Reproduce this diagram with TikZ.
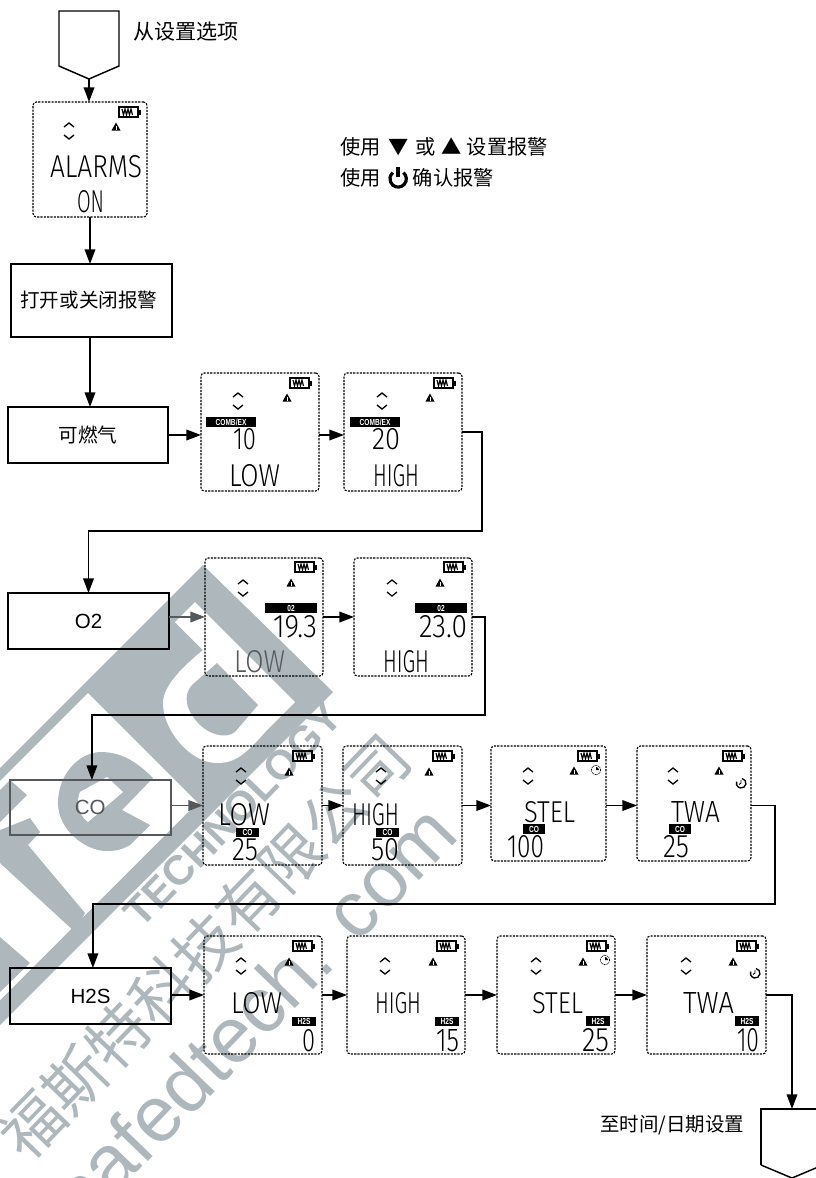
\documentclass[tikz,border=0pt]{standalone}
\usepackage{graphicx}
\usepackage{fontspec}
\setmainfont{Liberation Sans}
\newfontfamily\cjk{Noto Sans CJK SC}
\newfontfamily\lcdfont{Fira Sans Light}
\usetikzlibrary{arrows.meta,calc,positioning}
\definecolor{wmgray}{HTML}{AEB8BC}
\definecolor{dimline}{HTML}{55595C}
\newdimen\pxlen
\pxlen=0.75pt
\tikzset{
  flowline/.style={-{Triangle[length=11pt,width=8pt]},line width=1.1pt},
  dimflow/.style={flowline,dimline},
  stepbox/.style={draw,line width=1.1pt,inner sep=0pt,outer sep=0pt,align=center,font=\cjk\fontsize{14.7}{16}\selectfont},
  lcdframe/.style={draw,line width=0.85pt,dash pattern=on 1.6pt off 0.9pt,rounded corners=2.5pt,inner sep=0pt,outer sep=0pt},
  lcdtext/.style={anchor=north west,inner sep=0pt,outer sep=0pt,font=\lcdfont},
  lcdtagbox/.style={fill=black,text=white,inner sep=0pt,outer sep=0pt,font=\fontsize{6.6}{7}\selectfont\bfseries},
  cjklabel/.style={anchor=west,inner sep=0pt,font=\cjk\fontsize{15.2}{17}\selectfont},
  wmark/.style={text=wmgray,inner sep=0pt,rotate=46}
}
\newcommand{\lcdbox}[5]{\node[lcdframe,minimum width={(#4-#2)*0.75pt},minimum height={(#5-#3)*0.75pt}] (#1) at ({(#2+#4)/2},{(#3+#5)/2}) {};}
\newcommand{\lcdword}[6]{\node[lcdtext] (#1) at (#2,#3) {\resizebox{\numexpr#4-#2\relax\pxlen}{\numexpr#5-#3\relax\pxlen}{#6}};}
\newcommand{\lcdtag}[6]{\node[lcdtagbox,minimum width={(#4-#2)*0.75pt},minimum height={(#5-#3)*0.75pt}] (#1) at ({(#2+#4)/2},{(#3+#5)/2}) {\scalebox{0.75}[1]{#6}};}
\newcommand{\lcdicons}[6]{%
  \draw[line width=1pt] (#1,#2) rectangle ++(19,10);
  \fill (#1+19,#2+2.5) rectangle ++(2.5,5);
  \draw[line width=0.85pt] (#1+3,#2+2) -- ++(1.5,6) -- ++(1.5,-6) -- ++(1.5,6) -- ++(1.5,-6) -- ++(1.5,6) -- ++(1.5,-6) -- ++(1.5,6);
  \fill (#3-4.5,#4+3.5) -- (#3,#4-4.5) -- (#3+4.5,#4+3.5) -- cycle;
  \draw[white,line width=0.5pt] (#3,#4-1.5) -- (#3,#4+2.5);
  \draw[line width=1pt] (#5-5,#6+2) -- (#5,#6-2) -- (#5+5,#6+2);
  \draw[line width=1pt] (#5-5,#6+10) -- (#5,#6+14) -- (#5+5,#6+10);
}
\newcommand{\stelclock}[2]{%
  \draw[line width=0.5pt,dash pattern=on 0.8pt off 0.6pt] (#1,#2) circle (4.8);
  \fill (#1,#2) -- (#1+3,#2) arc[start angle=0,end angle=-90,radius=3] -- cycle;
}
\newcommand{\twaclock}[2]{%
  \draw[line width=1pt] (#1+1,#2-4.5) arc[start angle=-80,end angle=200,radius=4.8];
  \draw[line width=0.7pt] (#1,#2-3) -- (#1,#2) -- (#1-2,#2+1.5);
}
\begin{document}
\begin{tikzpicture}[x=0.75pt,y=-0.75pt]
  \useasboundingbox (0,0) rectangle (816,1178);
  \fill[wmgray] (203,565) -- (333,692) -- (0,1025) -- (0,768) -- cycle;
  \fill[white] (88,693) -- (197.5,802.5) -- (0,1000) -- (0,781) -- cycle;
  \fill[white] (195,602) -- (295,702) -- (267,730) .. controls (245,755) and (235,763) .. (217,763) .. controls (190,763) and (163,730) .. (163,703) .. controls (163,685) and (185,665) .. (203,650) -- (175,622) -- cycle;
  \fill[wmgray] (217,663) -- (258,705) -- (235,732) .. controls (225,740) and (208,733) .. (200,725) .. controls (185,710) and (183,695) .. (192,685) -- cycle;
  \fill[wmgray] (58,803) .. controls (58,775) and (78,753) .. (100,752) .. controls (120,752) and (135,760) .. (153,778) -- (122,810) -- (150,825) -- (130,845) .. controls (120,851) and (112,851) .. (105,851) .. controls (85,850) and (58,830) .. (58,803) -- cycle;
  \fill[white] (80,792) -- (107,777) -- (123,792) -- (88,822) .. controls (78,815) and (76,800) .. (80,792) -- cycle;
  \fill[wmgray] (10,780) -- (27,795) -- (0,822) -- (0,790) -- cycle;
  \fill[wmgray] (0,830) -- (30,818) -- (40,832) -- (28,845) -- (85,913) -- (75,932) -- (0,863) -- cycle;
  \fill[wmgray] (0,937) -- (30,963) -- (0,992) -- cycle;
  \node[wmark,font=\fontsize{31}{31}\selectfont\bfseries] (wmtech) at (233,815) {TECHNOLOGY};
  \node[wmark,font=\cjk\fontsize{46.5}{47}\selectfont] (wmfirm) at (205,947) {福斯特科技有限公司};
  \node[wmark,font=\fontsize{59}{59}\selectfont] (wmsite) at (253,1012) {safedtech. com};

  \draw[line width=1.1pt] (59,11) -- (119,11) -- (119,66) -- (89,79) -- (59,66) -- cycle;
  \coordinate (start) at (89,79);
  \node[cjklabel,font=\cjk\fontsize{15.8}{17}\selectfont] (fromlabel) at (133,32) {从设置选项};
  \node[cjklabel] (hintone) at (340,147) {使用\hspace{6pt}▼\hspace{4.5pt}或\hspace{5pt}▲\hspace{3.5pt}设置报警};
  \node[cjklabel] (hinttwo) at (340,178) {使用\hspace{24pt}确认报警};
  \draw[line width=2.4pt] (403.4,172.6) arc[start angle=-50,end angle=230,radius=8.2];
  \draw[line width=3pt] (398,167) -- (398,177);

  \lcdbox{alarms}{33}{102}{147}{217}
  \lcdicons{119}{107}{116}{127}{69}{125}
  \lcdword{alarmsword}{50}{155}{142}{177}{ALARMS}
  \lcdword{alarmsstate}{77}{190}{104}{212}{ON}
  \node[stepbox,minimum width=120.75pt,minimum height=54.75pt] (toggle) at (91.5,300.5) {打开或关闭报警\hspace{4pt}};
  \node[stepbox,minimum width=120pt,minimum height=42pt] (comb) at (88,435) {可燃气};
  \node[stepbox,minimum width=120.75pt,minimum height=42pt,font=\fontsize{15.4}{17}\selectfont] (oxy) at (88.5,621) {O2};
  \node[stepbox,draw=dimline,text=dimline,minimum width=120.75pt,minimum height=41.25pt,font=\fontsize{15.4}{17}\selectfont] (carbon) at (90.3,807.5) {CO};
  \node[stepbox,minimum width=120.75pt,minimum height=42pt,font=\fontsize{15.4}{17}\selectfont] (sulfide) at (90.5,996) {H2S};

  \lcdbox{combl}{201}{373}{319}{491}
  \lcdicons{290}{378}{287}{398}{238}{395}
  \lcdtag{combltag}{206}{417}{256}{427}{COMB/EX}
  \lcdword{comblval}{233}{428}{256}{449}{10}
  \lcdword{comblword}{229}{464}{280}{486}{LOW}
  \lcdbox{combh}{344}{373}{462}{491}
  \lcdicons{434}{378}{430}{398}{382}{395}
  \lcdtag{combhtag}{350}{417}{400}{427}{COMB/EX}
  \lcdword{combhval}{372}{428}{400}{449}{20}
  \lcdword{combhword}{373}{464}{419}{486}{HIGH}

  \lcdbox{oxyl}{205}{558}{323}{676}
  \lcdicons{295}{562}{291}{583}{243}{582}
  \lcdtag{oxyltag}{265}{603}{317}{613}{02}
  \lcdword{oxylval}{273}{615}{317}{637}{19.3}
  \node[lcdtext,text=dimline] (oxylword) at (234,650) {\resizebox{51\pxlen}{22\pxlen}{LOW}};
  \lcdbox{oxyh}{354}{558}{472}{676}
  \lcdicons{444}{562}{440}{583}{392}{582}
  \lcdtag{oxyhtag}{415}{603}{467}{613}{02}
  \lcdword{oxyhval}{419}{615}{467}{637}{23.0}
  \lcdword{oxyhword}{383}{650}{429}{672}{HIGH}

  \lcdbox{carbl}{203}{746}{322}{865}
  \lcdicons{293}{751}{289}{772}{241}{770}
  \lcdword{carblword}{218}{803}{270}{825}{LOW}
  \lcdtag{carbltag}{236}{828}{259}{837}{CO}
  \lcdword{carblval}{232}{838}{258}{860}{25}
  \lcdbox{carbh}{343}{746}{462}{865}
  \lcdicons{433}{751}{429}{772}{381}{770}
  \lcdword{carbhword}{352}{803}{399}{825}{HIGH}
  \lcdtag{carbhtag}{376}{828}{399}{837}{CO}
  \lcdword{carbhval}{371}{838}{399}{860}{50}
  \lcdbox{carbs}{491}{746}{606}{861}
  \lcdicons{578}{751}{574}{771}{528}{770}
  \stelclock{596}{770}
  \lcdword{carbsword}{524}{801}{575}{822}{STEL}
  \lcdtag{carbstag}{523}{824}{545}{834}{CO}
  \lcdword{carbsval}{507}{835}{544}{857}{100}
  \lcdbox{carbt}{637}{746}{751}{861}
  \lcdicons{723}{751}{719}{771}{673}{770}
  \twaclock{741}{783}
  \lcdword{carbtword}{671}{801}{720}{822}{TWA}
  \lcdtag{carbttag}{669}{824}{691}{834}{CO}
  \lcdword{carbtval}{663}{835}{689}{857}{25}

  \lcdbox{sulfl}{204}{936}{322}{1054}
  \lcdicons{293}{941}{289}{962}{241}{960}
  \lcdword{sulflword}{231}{992}{282}{1013}{LOW}
  \lcdtag{sulfltag}{292}{1017}{316}{1026}{H2S}
  \lcdword{sulflval}{302}{1029}{315}{1051}{0}
  \lcdbox{sulfh}{347}{936}{465}{1054}
  \lcdicons{437}{941}{433}{962}{385}{960}
  \lcdword{sulfhword}{375}{992}{421}{1013}{HIGH}
  \lcdtag{sulfhtag}{435}{1017}{459}{1026}{H2S}
  \lcdword{sulfhval}{436}{1029}{459}{1051}{15}
  \lcdbox{sulfs}{497}{936}{615}{1054}
  \lcdicons{587}{941}{583}{962}{536}{960}
  \stelclock{605}{960}
  \lcdword{sulfsword}{532}{992}{583}{1013}{STEL}
  \lcdtag{sulfstag}{586}{1016}{610}{1026}{H2S}
  \lcdword{sulfsval}{582}{1028}{609}{1051}{25}
  \lcdbox{sulft}{647}{936}{766}{1054}
  \lcdicons{737}{941}{733}{962}{686}{960}
  \twaclock{755}{973}
  \lcdword{sulftword}{683}{992}{734}{1013}{TWA}
  \lcdtag{sulfttag}{735}{1016}{759}{1026}{H2S}
  \lcdword{sulftval}{737}{1028}{759}{1051}{10}

  \draw[line width=1.1pt] (761,1165) -- (761,1109) -- (823,1109);
  \draw[line width=1.1pt] (761,1165) -- (792,1178) -- (823,1165);
  \coordinate (finish) at (792,1109);
  \node[cjklabel,font=\cjk\fontsize{14.6}{16}\selectfont] (tolabel) at (600,1125) {至时间/日期设置};

  \coordinate (turna) at (482,531);
  \coordinate (turnb) at (485,715);
  \coordinate (turnc) at (775,904);
  \draw[flowline] (start) -- (start |- alarms.north);
  \draw[flowline] (alarms.south) -- (alarms.south |- toggle.north);
  \draw[flowline] (alarms.south |- toggle.south) -- (alarms.south |- comb.north);
  \draw[flowline] (comb.east) -- (comb.east -| combl.west);
  \draw[flowline] (comb.east -| combl.east) -- (comb.east -| combh.west);
  \draw[flowline] (combh.east) -| (turna) -| (oxy.north);
  \draw[dimflow] (oxy.east |- oxyl.west) -- (oxyl.west);
  \draw[flowline] (oxyl.east) -- (oxyh.west);
  \draw[flowline] (oxyh.east) -| (turnb) -| ([xshift=1.2pt]carbon.north);
  \draw[dimflow] (carbon.east |- carbl.west) -- (carbl.west);
  \draw[flowline] (carbl.east) -- (carbh.west);
  \draw[flowline] (carbh.east) -- (carbh.east -| carbs.west);
  \draw[flowline] (carbh.east -| carbs.east) -- (carbh.east -| carbt.west);
  \draw[flowline] (carbh.east -| carbt.east) -| (turnc) -| ([xshift=1.8pt]sulfide.north);
  \draw[flowline] (sulfide.east |- sulfl.west) -- (sulfl.west);
  \draw[flowline] (sulfl.east) -- (sulfh.west);
  \draw[flowline] (sulfh.east) -- (sulfs.west);
  \draw[flowline] (sulfs.east) -- (sulft.west);
  \draw[flowline] (sulft.east) -| (finish);
\end{tikzpicture}
\end{document}
